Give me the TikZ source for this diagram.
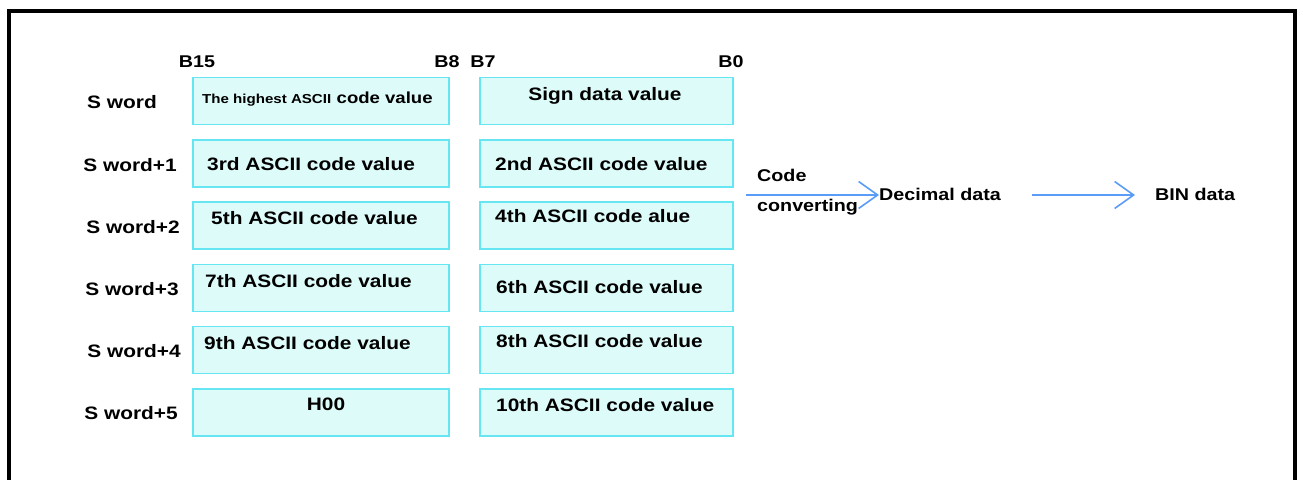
\documentclass[tikz,border=0pt]{standalone}
\usepackage{fontspec}
\setmainfont{Liberation Sans}[FakeStretch=1.16]
\usetikzlibrary{arrows.meta}
\definecolor{boxfill}{HTML}{DDFBF9}
\definecolor{boxline}{HTML}{66E6F2}
\definecolor{arrblue}{HTML}{5B9CF6}
\tikzset{
  cell/.style={draw=boxline, fill=boxfill, line width=1.6pt, minimum height=47pt, inner sep=0pt},
  lcell/.style={cell, minimum width=256pt},
  rcell/.style={cell, minimum width=253pt},
  txt/.style={inner sep=0pt, font=\bfseries\fontsize{17}{20}\selectfont},
  btxt/.style={inner sep=0pt, font=\bfseries\fontsize{18}{21}\selectfont},
  ltxt/.style={txt, anchor=west},
  lbtxt/.style={btxt, anchor=west},
  arr/.style={draw=arrblue, line width=1.6pt, -{Straight Barb[length=19pt,width=27pt,line width=1.6pt]}},
}
\begin{document}
\begin{tikzpicture}[x=1pt,y=-1pt]
\useasboundingbox (0,0) rectangle (1303,479);
\fill[white] (0,0) rectangle (1303,479);
\draw[line width=4pt] (9,482) -- (9,11) -- (1295,11) -- (1295,482);

% bit labels
\node[txt] (b15) at (197,62) {B15};
\node[txt] (b8) at (447,62) {B8};
\node[txt] (b7) at (483,62) {B7};
\node[txt] (b0) at (731,62) {B0};

% boxes
\node[lcell] (l0) at (321,101) {};
\node[rcell] (r0) at (606.5,101) {};
\node[lcell] (l1) at (321,163.5) {};
\node[rcell] (r1) at (606.5,163.5) {};
\node[lcell] (l2) at (321,225.5) {};
\node[rcell] (r2) at (606.5,225.5) {};
\node[lcell] (l3) at (321,288) {};
\node[rcell] (r3) at (606.5,288) {};
\node[lcell] (l4) at (321,350) {};
\node[rcell] (r4) at (606.5,350) {};
\node[lcell] (l5) at (321,412.5) {};
\node[rcell] (r5) at (606.5,412.5) {};

% row labels
\node[btxt] (s0) at (122,102) {S word};
\node[btxt] (s1) at (130,165) {S word+1};
\node[btxt] (s2) at (133,227) {S word+2};
\node[btxt] (s3) at (132,289) {S word+3};
\node[btxt] (s4) at (134,351) {S word+4};
\node[btxt] (s5) at (131,413) {S word+5};

% box texts
\node[ltxt] (t0) at (202,99) {{\fontsize{13}{15}\selectfont The highest ASCII} {\fontsize{16}{18}\selectfont code value}};
\node[btxt] (u0) at (605,96) {Sign data value};
\node[lbtxt] (t1) at (207,164) {3rd ASCII code value};
\node[lbtxt] (u1) at (495,164) {2nd ASCII code value};
\node[lbtxt] (t2) at (211,218) {5th ASCII code value};
\node[lbtxt] (u2) at (495,216) {4th ASCII code alue};
\node[lbtxt] (t3) at (205,281) {7th ASCII code value};
\node[lbtxt] (u3) at (496,287) {6th ASCII code value};
\node[lbtxt] (t4) at (204,343) {9th ASCII code value};
\node[lbtxt] (u4) at (496,341) {8th ASCII code value};
\node[btxt] (t5) at (326,404) {H00};
\node[lbtxt] (u5) at (496,405) {10th ASCII code value};

% conversion chain
\node[ltxt] (code) at (757,175) {Code};
\node[ltxt] (conv) at (757,207) {converting};
\node[ltxt] (dec) at (879,194) {Decimal data};
\node[ltxt] (bin) at (1155,194) {BIN data};
\coordinate (a1s) at (746,195);
\coordinate (a2s) at (1032,195);
\draw[arr] (a1s) -- (a1s -| dec.west);
\draw[arr] (a2s) -- ([xshift=-20pt]bin.west |- a2s);
\end{tikzpicture}
\end{document}
